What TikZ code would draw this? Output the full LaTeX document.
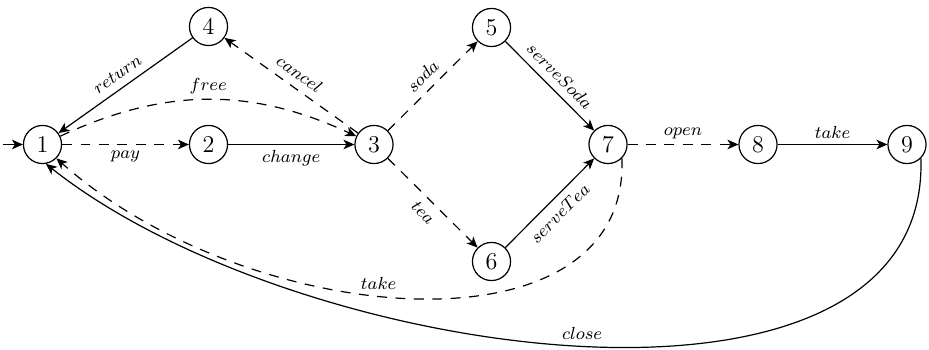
\documentclass[tikz,border=0pt]{standalone}
\usetikzlibrary{arrows.meta}
\begin{document}
\begin{tikzpicture}[x=0.4566pt, y=-0.4566pt,
  state/.style={circle, draw, line width=0.55pt, minimum size=17.4pt, inner sep=0pt, font=\fontsize{11}{13}\selectfont},
  lbl/.style={font=\footnotesize, inner sep=2.5pt},
  slbl/.style={font=\footnotesize, inner sep=3.5pt, sloped},
  trans/.style={-{Stealth[length=5pt,width=4.4pt,inset=1.4pt]}, line width=0.55pt},
  dsh/.style={dash pattern=on 4.5pt off 3.9pt},
]
\useasboundingbox (0,0) rectangle (929,350);
\node[state] (n1) at (42.5,144.5) {1};
\node[state] (n2) at (208.5,144.5) {2};
\node[state] (n3) at (374,144.5) {3};
\node[state] (n4) at (208.5,26.5) {4};
\node[state] (n5) at (491.5,27.5) {5};
\node[state] (n6) at (491.5,261.5) {6};
\node[state] (n7) at (608,144.5) {7};
\node[state] (n8) at (758,144.5) {8};
\node[state] (n9) at (907,144.5) {9};
\coordinate (init) at (3,144.5);
\draw[trans] (init) -- (n1);
\draw[trans,dsh] (n1) -- node[lbl,below] {$pay$} (n2);
\draw[trans] (n2) -- node[lbl,below] {$change$} (n3);
\draw[trans,dsh] (n1) to[bend left=25] node[lbl,above] {$free$} (n3);
\draw[trans] (n4) -- node[slbl,above] {$return$} (n1);
\draw[trans,dsh] (n3) -- node[slbl,above] {$cancel$} (n4);
\draw[trans,dsh] (n3) -- node[slbl,above] {$soda$} (n5);
\draw[trans,dsh] (n3) -- node[slbl,below] {$tea$} (n6);
\draw[trans] (n5) -- node[slbl,above] {$serveSoda$} (n7);
\draw[trans] (n6) -- node[slbl,below] {$serveTea$} (n7);
\draw[trans,dsh] (n7) -- node[lbl,above] {$open$} (n8);
\draw[trans] (n8) -- node[lbl,above] {$take$} (n9);
\draw[trans,dsh] (n7.-45) .. controls (630,360) and (250,330) .. node[lbl,pos=0.55,above] {$take$} (n1.-45);
\draw[trans] (n9.-45) .. controls (930,450) and (300,365) .. node[lbl,pos=0.5,above] {$close$} (n1.-80);
\end{tikzpicture}
\end{document}
